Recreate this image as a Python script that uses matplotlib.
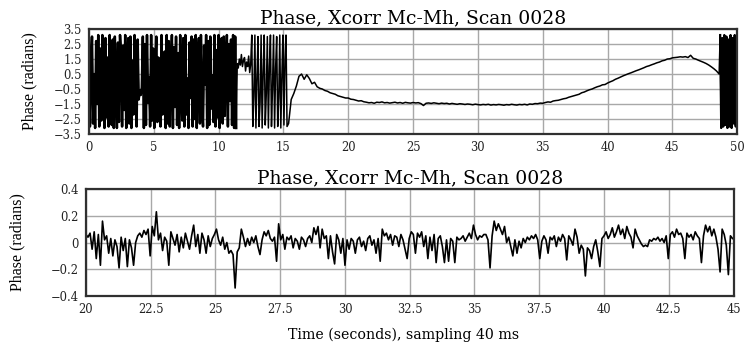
import numpy as np
import matplotlib
matplotlib.use("Agg")
import matplotlib.pyplot as plt

plt.rcParams['font.family'] = ['DejaVu Serif', 'Liberation Serif']

# ---- data ----
title = "Phase, Xcorr Mc-Mh, Scan 0028"

# top plot: wrapped phase, 0 - 15.28 s every 0.08 s
top_a_start, top_a_step = 0.0, 0.08
top_a = [
    2.9, -3.0, 1.2, 3.0, -2.8, 0.5, -3.1, 2.7, -1.5, 3.1, -3.0, 2.2, -2.6, 3.1, 0.8, -3.1, 2.9, -2.4, 1.6, -3.0, 3.1, -1.0, -2.9, 2.8, -3.1,
    3.0, -0.3, -3.1, 2.6, -2.7, 3.1, 1.8, -3.0, 2.4, -1.9, 3.1, -3.1, 0.9, 2.9, -2.8, 3.0, -3.1, 1.4, -2.2, 3.1, -0.8, -3.0, 2.8, -1.2, -0.6,
    -0.9, -0.4, 3.0, -3.1, 2.5, -2.9, 3.1, -1.4, 0.3, -3.0, 3.1, -2.6, 2.2, -3.1, 1.1, 3.0, -2.7, 1.6, 1.2, -3.0, 3.1, -2.2, 1.5, 2.0, -3.1,
    3.1, -2.8, 2.7, -3.0, 0.6, 3.1, -3.1, 2.3, -1.7, 3.0, -2.9, 1.9, -3.1, 3.1, -0.5, -2.6, 2.9, -3.0, 3.1, -2.2, 0.2, -3.1, 2.6, -1.1, 3.0,
    -3.0, 2.8, -2.5, 3.1, -3.1, 1.3, 2.9, -2.8, 3.1, -1.6, -3.0, 2.4, -0.2, 3.1, -3.1, 2.7, -2.9, 3.0, -1.8, 0.4, -2.7, 3.1, -3.0, 2.1, -2.4,
    3.1, -3.1, 1.7, 2.9, -2.8, 3.0, -2.3, 0.9, 3.1, -3.0, 2.5, -1.3, 2.8, -2.9, 3.1, -3.1, 3.0, -3.1, 1.2, 0.9, 1.5, 1.1, 1.8, 1.0, 1.4,
    1.6, 0.7, 1.3, 1.0, 1.7, 0.6, 1.2, 3.1, -3.0, -1.0, 3.1, -3.1, 0.2, 3.0, -3.0, -1.4, 3.1, -3.1, 0.6, 3.1, -2.9, -0.8, 3.0, -3.1, 1.0,
    3.1, -3.0, -0.4, 3.1, -3.1, 0.9, 3.0, -3.0, -1.1, 3.1, -3.1, 0.3, 3.1, -2.9, 1.5, 3.1, -3.0,
]

# top plot: unwrapped part, 15.4 - 48.6 s every 0.2 s
top_b_start, top_b_step = 15.4, 0.2
top_b = [
    -2.8, -1.2, -0.8, -0.3, 0.35, 0.5, 0.15, 0.45, 0.2, -0.15,
    -0.05, -0.35, -0.45, -0.5, -0.6, -0.65, -0.75, -0.8, -0.85, -0.95,
    -1.0, -1.05, -1.1, -1.1, -1.18, -1.2, -1.25, -1.3, -1.28, -1.35,
    -1.38, -1.42, -1.4, -1.45, -1.38, -1.4, -1.36, -1.42, -1.4, -1.44,
    -1.41, -1.38, -1.43, -1.4, -1.45, -1.39, -1.42, -1.44, -1.4, -1.43,
    -1.41, -1.47, -1.6, -1.45, -1.43, -1.46, -1.42, -1.45, -1.48, -1.44,
    -1.47, -1.45, -1.5, -1.46, -1.49, -1.52, -1.48, -1.5, -1.53, -1.5,
    -1.52, -1.55, -1.51, -1.54, -1.56, -1.53, -1.55, -1.52, -1.57, -1.54,
    -1.56, -1.53, -1.55, -1.58, -1.54, -1.56, -1.52, -1.55, -1.57, -1.53,
    -1.55, -1.52, -1.56, -1.5, -1.52, -1.47, -1.48, -1.44, -1.45, -1.4,
    -1.36, -1.38, -1.3, -1.27, -1.25, -1.2, -1.15, -1.12, -1.05, -1.0,
    -0.95, -0.9, -0.85, -0.75, -0.7, -0.62, -0.55, -0.5, -0.42, -0.35,
    -0.3, -0.22, -0.2, -0.1, -0.02, 0.05, 0.15, 0.22, 0.3, 0.38,
    0.45, 0.52, 0.58, 0.65, 0.72, 0.78, 0.85, 0.92, 1.0, 1.05,
    1.12, 1.18, 1.25, 1.3, 1.38, 1.42, 1.5, 1.52, 1.58, 1.6,
    1.62, 1.65, 1.63, 1.66, 1.6, 1.75, 1.55, 1.5, 1.42, 1.35,
    1.28, 1.2, 1.1, 0.98, 0.85, 0.7, 0.5,
]

# top plot: wrapped again at the end, 48.68 - 49.96 s every 0.08 s
top_c_start, top_c_step = 48.68, 0.08
top_c = [3.1, -3.1, 2.9, -3.0, 3.1, -2.9, 3.0, -3.1, 2.8, -3.0, 3.1, -3.1, 2.9, -2.8, 3.1, -3.0, 3.0]

# bottom plot: detrended phase, 20 - 45 s every 0.08 s
bot_start, bot_step = 20.0, 0.08
bot = [
    0.06, 0.04, 0.07, -0.05, 0.08, -0.12, 0.06, -0.17, 0.16, 0.02, 0.05, -0.08, 0.03, -0.10, 0.02, -0.03, -0.19, 0.04, -0.06, 0.03, -0.18, 0.02, -0.04, -0.17, 0.00,
    0.05, 0.07, 0.04, 0.09, 0.06, 0.10, -0.10, 0.12, 0.05, 0.23, 0.02, 0.07, -0.06, 0.04, 0.01, -0.17, 0.08, 0.03, -0.02, 0.06, -0.07, 0.04, -0.04, 0.07, 0.01,
    -0.05, 0.05, 0.13, -0.03, 0.06, -0.08, 0.07, 0.02, -0.08, 0.05, -0.03, 0.03, 0.06, 0.10, 0.02, -0.02, 0.04, -0.05, 0.00, -0.08, -0.06, -0.09, -0.34, -0.07, -0.04,
    0.10, 0.04, -0.03, 0.03, -0.02, 0.04, 0.00, 0.05, -0.03, -0.09, 0.02, 0.08, 0.05, 0.09, 0.03, 0.01, 0.04, -0.14, 0.14, 0.02, 0.06, -0.05, 0.04, 0.02, 0.05,
    -0.04, 0.03, 0.01, -0.05, 0.04, 0.02, -0.03, 0.03, 0.05, 0.00, 0.11, 0.06, 0.12, -0.04, 0.10, 0.03, 0.05, -0.12, 0.05, -0.07, -0.16, 0.06, 0.02, -0.08, 0.03,
    -0.17, 0.02, -0.05, 0.03, 0.01, -0.08, 0.02, 0.04, -0.03, 0.01, -0.06, 0.03, 0.05, -0.02, 0.02, -0.08, 0.03, -0.14, 0.10, 0.05, 0.07, 0.02, 0.06, -0.02, 0.05,
    0.04, -0.03, 0.06, 0.02, -0.05, -0.12, 0.03, 0.08, 0.06, -0.08, 0.07, 0.04, 0.08, -0.03, 0.05, -0.12, 0.04, -0.06, 0.06, -0.15, 0.03, 0.05, -0.03, -0.15, 0.02,
    -0.14, 0.03, 0.01, -0.15, 0.04, 0.02, 0.03, 0.05, 0.01, 0.04, 0.07, 0.03, 0.13, 0.06, 0.02, 0.05, 0.04, 0.06, 0.06, 0.02, -0.19, 0.05, 0.16, 0.09, 0.14,
    0.10, 0.06, 0.12, 0.00, 0.04, -0.03, -0.10, 0.02, -0.08, 0.01, -0.04, 0.03, 0.00, 0.04, 0.02, 0.05, 0.03, 0.06, 0.02, -0.12, 0.01, 0.05, 0.02, -0.08, 0.04,
    0.02, 0.05, -0.03, 0.04, 0.01, 0.06, 0.03, -0.13, 0.05, 0.02, -0.02, 0.10, 0.04, -0.08, -0.02, -0.05, -0.25, -0.04, -0.06, -0.12, -0.03, 0.02, -0.07, -0.18, 0.03,
    0.05, 0.08, 0.03, 0.06, 0.11, 0.04, 0.08, 0.13, 0.06, 0.10, 0.03, 0.12, 0.07, 0.04, -0.04, 0.10, 0.05, 0.02, -0.01, -0.03, -0.02, -0.03, 0.02, 0.01, 0.03,
    0.02, 0.04, 0.01, 0.03, 0.00, 0.05, -0.12, 0.06, 0.08, 0.04, 0.10, 0.06, 0.07, 0.03, -0.12, 0.07, 0.04, 0.06, 0.02, 0.08, 0.05, 0.03, -0.15, 0.05, 0.13,
    0.08, 0.12, 0.05, 0.10, 0.04, -0.05, -0.22, 0.10, 0.06, -0.02, -0.24, 0.05, 0.03,
]

top_xticks = [0, 5, 10, 15, 20, 25, 30, 35, 40, 45, 50]
top_yticks = [3.5, 2.5, 1.5, 0.5, -0.5, -1.5, -2.5, -3.5]
bot_xticks = [20, 22.5, 25, 27.5, 30, 32.5, 35, 37.5, 40, 42.5, 45]
bot_xlabels = ["20", "22.5", "25", "27.5", "30", "32.5", "35", "37.5", "40", "42.5", "45"]
bot_yticks = [0.4, 0.2, 0, -0.2, -0.4]
bot_ylabels = ["0.4", "0.2", "0", "\u22120.2", "\u22120.4"]


def times(start, step, vals):
    return start + step * np.arange(len(vals))


t_top = np.concatenate([times(top_a_start, top_a_step, top_a),
                        times(top_b_start, top_b_step, top_b),
                        times(top_c_start, top_c_step, top_c)])
y_top = np.concatenate([top_a, top_b, top_c])
t_bot = times(bot_start, bot_step, bot)

fig = plt.figure(figsize=(7.47, 3.44), dpi=100)
ax1 = fig.add_axes([0.119, 0.6105, 0.868, 0.305])
ax2 = fig.add_axes([0.115, 0.1395, 0.867, 0.311])


def style(ax, label_x):
    ax.grid(True, color='#a8a8a8', linewidth=1.0)
    ax.set_axisbelow(True)
    for s in ax.spines.values():
        s.set_linewidth(1.6)
        s.set_color('#303030')
    ax.tick_params(length=0, labelsize=8.3, pad=5, labelcolor='#222222')
    ax.set_title(title, fontsize=13.5, pad=4)
    ax.set_ylabel("Phase (radians)", fontsize=11.5, family='Liberation Serif')
    ax.yaxis.set_label_coords(label_x, 0.5)


#top panel - whole trace, then the dense wrapped stretches again a bit heavier
ax1.plot(t_top, y_top, color='black', linewidth=1.1)
ax1.plot(np.where(t_top < 11.4, t_top, np.nan), y_top, color='black', linewidth=1.8)
ax1.plot(np.where(t_top > 48.6, t_top, np.nan), y_top, color='black', linewidth=1.6)
ax1.set_xlim(0, 50)
ax1.set_ylim(-3.5, 3.5)
ax1.set_xticks(top_xticks)
ax1.set_yticks(top_yticks)
style(ax1, -0.080)

#bottom panel
ax2.plot(t_bot, bot, color='black', linewidth=1.2)
ax2.set_xlim(20, 45)
ax2.set_ylim(-0.4, 0.4)
ax2.set_xticks(bot_xticks)
ax2.set_xticklabels(bot_xlabels)
ax2.set_yticks(bot_yticks)
ax2.set_yticklabels(bot_ylabels)
style(ax2, -0.094)

fig.text(0.54, 0.026, "Time (seconds), sampling 40 ms", ha='center', va='center', fontsize=10.2)

plt.savefig('out.png', dpi=100)
